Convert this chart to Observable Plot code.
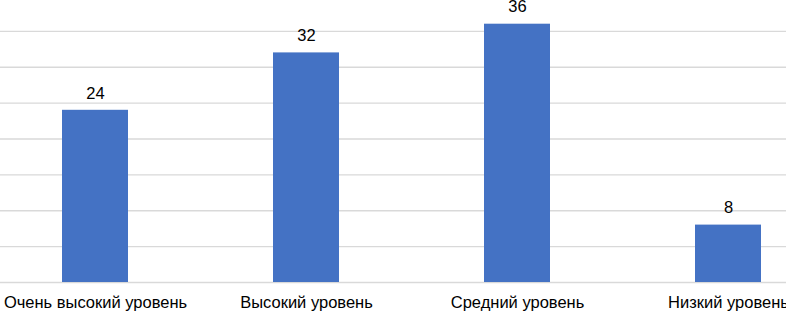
<!DOCTYPE html>
<html>
<head>
<meta charset="utf-8">
<script src="https://cdn.jsdelivr.net/npm/d3@7"></script>
<script src="https://cdn.jsdelivr.net/npm/@observablehq/plot@0.6"></script>
<style>
  html, body { margin: 0; padding: 0; background: #fff; }
  #chart svg { display: block; }
</style>
</head>
<body>
<div id="chart"></div>
<script>
const categories = ["Очень высокий уровень", "Высокий уровень", "Средний уровень", "Низкий уровень"];
const values = [24, 32, 36, 8];
const gridTicks = [0, 5, 10, 15, 20, 25, 30, 35];

const data = categories.map((c, i) => ({category: c, value: values[i]}));

const chart = Plot.plot({
  width: 786,
  height: 312,
  marginLeft: 0,
  marginRight: 0,
  marginTop: 0,
  marginBottom: 30,
  style: {fontFamily: "'Liberation Sans', Arial, sans-serif", background: "#fff", color: "#000"},
  x: {domain: categories, range: [-11.75, 834.25], paddingInner: 0.688, paddingOuter: 0.344, label: null},
  y: {domain: [0, 40], range: [282, -5], axis: null},
  marks: [
    Plot.ruleY(gridTicks, {stroke: "#d9d9d9", strokeWidth: 1.3}),
    Plot.barY(data, {x: "category", y: "value", fill: "#4472C4"}),
    Plot.text(data, {x: "category", y: "value", text: d => String(d.value), dy: -17, fontSize: 16.5, fill: "#000"}),
    Plot.axisX({tickSize: 0, tickPadding: 14, fontSize: 16.5, fill: "#000", label: null})
  ]
});
document.getElementById("chart").appendChild(chart);
</script>
</body>
</html>
